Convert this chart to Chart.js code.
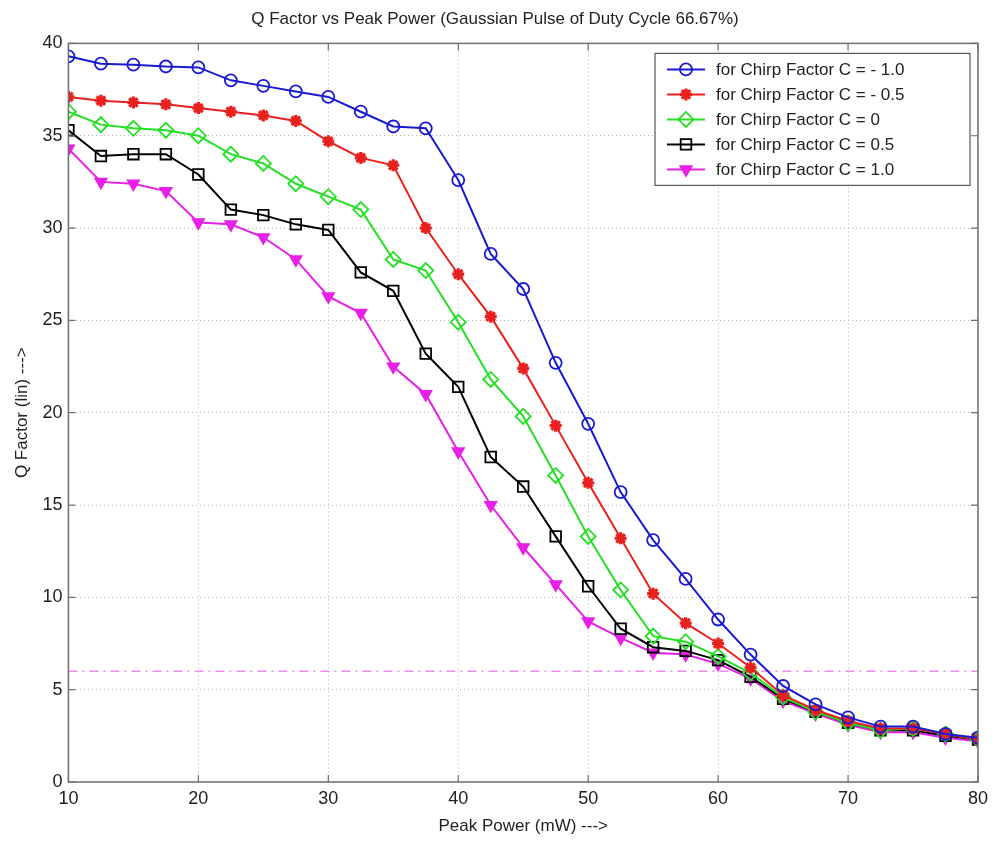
<!DOCTYPE html>
<html>
<head>
<meta charset="utf-8">
<script src="https://cdn.jsdelivr.net/npm/chart.js@4/dist/chart.umd.min.js"></script>
<style>
  html, body { margin: 0; padding: 0; background: #fff; }
  #wrap { width: 994px; height: 841px; position: relative; }
</style>
</head>
<body>
<div id="wrap"><canvas id="qchart"></canvas></div>
<script>
// peak power (mW)
const power = [10, 12.5, 15, 17.5, 20, 22.5, 25, 27.5, 30, 32.5, 35, 37.5, 40, 42.5, 45,
  47.5, 50, 52.5, 55, 57.5, 60, 62.5, 65, 67.5, 70, 72.5, 75, 77.5, 80];

// Q factor for each chirp factor
const qNeg10 = [39.3, 38.9, 38.85, 38.75, 38.7, 38.0, 37.7, 37.4, 37.1, 36.3, 35.5, 35.4, 32.6, 28.6, 26.7,
  22.7, 19.4, 15.7, 13.1, 11.0, 8.8, 6.9, 5.2, 4.2, 3.5, 3.0, 3.0, 2.6, 2.4];
const qNeg05 = [37.1, 36.9, 36.8, 36.7, 36.5, 36.3, 36.1, 35.8, 34.7, 33.8, 33.4, 30.0, 27.5, 25.2, 22.4,
  19.3, 16.2, 13.2, 10.2, 8.6, 7.5, 6.2, 4.7, 3.9, 3.3, 2.9, 2.9, 2.6, 2.3];
const qZero = [36.3, 35.6, 35.4, 35.3, 35.0, 34.0, 33.5, 32.4, 31.7, 31.0, 28.3, 27.7, 24.9, 21.8, 19.8,
  16.6, 13.3, 10.4, 7.9, 7.6, 6.8, 5.9, 4.6, 3.8, 3.2, 2.8, 2.9, 2.6, 2.3];
const qPos05 = [35.3, 33.9, 34.0, 34.0, 32.9, 31.0, 30.7, 30.2, 29.9, 27.6, 26.6, 23.2, 21.4, 17.6, 16.0,
  13.3, 10.6, 8.3, 7.3, 7.1, 6.6, 5.7, 4.5, 3.8, 3.2, 2.8, 2.8, 2.5, 2.3];
const qPos10 = [34.3, 32.5, 32.4, 32.0, 30.3, 30.2, 29.5, 28.3, 26.3, 25.4, 22.5, 21.0, 17.9, 15.0, 12.7,
  10.7, 8.7, 7.8, 7.0, 6.9, 6.4, 5.6, 4.4, 3.7, 3.1, 2.7, 2.7, 2.4, 2.2];

// threshold line
const thresholdX = [10, 80];
const thresholdQ = [6, 6];

const seriesNames = ['for Chirp Factor C = - 1.0', 'for Chirp Factor C = - 0.5', 'for Chirp Factor C = 0',
  'for Chirp Factor C = 0.5', 'for Chirp Factor C = 1.0'];

const FONT = 'Arial, "Liberation Sans", sans-serif';

function pts(xs, ys) {
  return xs.map((x, i) => ({ x: x, y: ys[i] }));
}

function series(label, ys, color, style, filled, radius, rot) {
  return {
    label: label,
    data: pts(power, ys),
    borderColor: color,
    backgroundColor: filled ? color : 'rgba(0,0,0,0)',
    borderWidth: 2,
    pointStyle: style,
    pointRotation: rot || 0,
    pointRadius: radius,
    pointBorderWidth: style === 'star' ? 3.2 : 1.8,
    pointBorderColor: color,
    pointBackgroundColor: filled ? color : 'rgba(0,0,0,0)',
    tension: 0
  };
}

// matlab-ish frame, inward ticks and legend box
const framePlugin = {
  id: 'frame',
  afterDraw(chart) {
    const c = chart.ctx;
    const a = chart.chartArea;
    const xs = chart.scales.x, ys = chart.scales.y;
    c.save();
    c.strokeStyle = '#6e6e6e';
    c.lineWidth = 1.5;
    c.strokeRect(a.left, a.top, a.right - a.left, a.bottom - a.top);
    c.lineWidth = 1.2;
    xs.ticks.forEach(t => {
      const px = xs.getPixelForValue(t.value);
      c.beginPath();
      c.moveTo(px, a.bottom); c.lineTo(px, a.bottom - 7);
      c.moveTo(px, a.top); c.lineTo(px, a.top + 7);
      c.stroke();
    });
    ys.ticks.forEach(t => {
      const py = ys.getPixelForValue(t.value);
      c.beginPath();
      c.moveTo(a.left, py); c.lineTo(a.left + 7, py);
      c.moveTo(a.right, py); c.lineTo(a.right - 7, py);
      c.stroke();
    });

    // legend
    const boxR = a.right - 8, boxL = boxR - 315, boxT = a.top + 10, rowH = 25;
    const n = seriesNames.length;
    c.fillStyle = '#fff';
    c.fillRect(boxL, boxT, boxR - boxL, rowH * n + 7);
    c.strokeStyle = '#555';
    c.lineWidth = 1.2;
    c.strokeRect(boxL, boxT, boxR - boxL, rowH * n + 7);
    c.font = '17px ' + FONT;
    c.textBaseline = 'middle';
    for (let i = 0; i < n; i++) {
      const ds = chart.data.datasets[i];
      const y = boxT + 16 + i * rowH;
      c.strokeStyle = ds.borderColor;
      c.lineWidth = 2;
      c.beginPath();
      c.moveTo(boxL + 12, y); c.lineTo(boxL + 50, y);
      c.stroke();
      c.lineWidth = ds.pointBorderWidth;
      c.fillStyle = ds.pointBackgroundColor;
      Chart.helpers.drawPoint(c, {
        pointStyle: ds.pointStyle, rotation: ds.pointRotation,
        radius: ds.pointRadius, borderWidth: ds.pointBorderWidth
      }, boxL + 31, y);
      c.fillStyle = '#222';
      c.fillText(seriesNames[i], boxL + 61, y + 1);
    }
    c.restore();
  }
};

const ctx = document.getElementById('qchart');

const qChart = new Chart(ctx, {
  type: 'line',
  data: {
    datasets: [
      series(seriesNames[0], qNeg10, '#1a1ad0', 'circle', false, 6),
      series(seriesNames[1], qNeg05, '#e8201e', 'star', true, 6),
      series(seriesNames[2], qZero, '#22e022', 'rectRot', false, 7.5),
      series(seriesNames[3], qPos05, '#000000', 'rect', false, 7.5),
      series(seriesNames[4], qPos10, '#e620e6', 'triangle', true, 6.5, 180),
      {
        label: 'threshold',
        data: pts(thresholdX, thresholdQ),
        borderColor: '#f08cf0',
        borderWidth: 1.5,
        borderDash: [9, 5, 2, 5],
        pointRadius: 0,
        tension: 0
      }
    ]
  },
  options: {
    responsive: true,
    maintainAspectRatio: false,
    animation: false,
    layout: { padding: { left: 12, right: 16, top: 0, bottom: 4 } },
    plugins: {
      legend: { display: false },
      tooltip: { enabled: false },
      title: {
        display: true,
        text: 'Q Factor vs Peak Power (Gaussian Pulse of Duty Cycle 66.67%)',
        color: '#222',
        font: { family: FONT, size: 17, weight: 'normal' },
        padding: { top: 9, bottom: 14 }
      }
    },
    scales: {
      x: {
        type: 'linear',
        min: 10,
        max: 80,
        ticks: { stepSize: 10, color: '#222', padding: 6, font: { family: FONT, size: 18 } },
        grid: { color: '#b4b4b4', drawTicks: false },
        border: { display: false, dash: [1, 3] },
        title: {
          display: true,
          text: 'Peak Power (mW) --->',
          color: '#222',
          font: { family: FONT, size: 17 },
          padding: { top: 1, bottom: 0 }
        }
      },
      y: {
        min: 0,
        max: 40,
        ticks: { stepSize: 5, color: '#222', padding: 6, font: { family: FONT, size: 18 } },
        grid: { color: '#b4b4b4', drawTicks: false },
        border: { display: false, dash: [1, 3] },
        title: {
          display: true,
          text: 'Q Factor (lin) --->',
          color: '#222',
          font: { family: FONT, size: 17 },
          padding: { top: 0, bottom: 4 }
        }
      }
    }
  },
  plugins: [framePlugin]
});
</script>
</body>
</html>
